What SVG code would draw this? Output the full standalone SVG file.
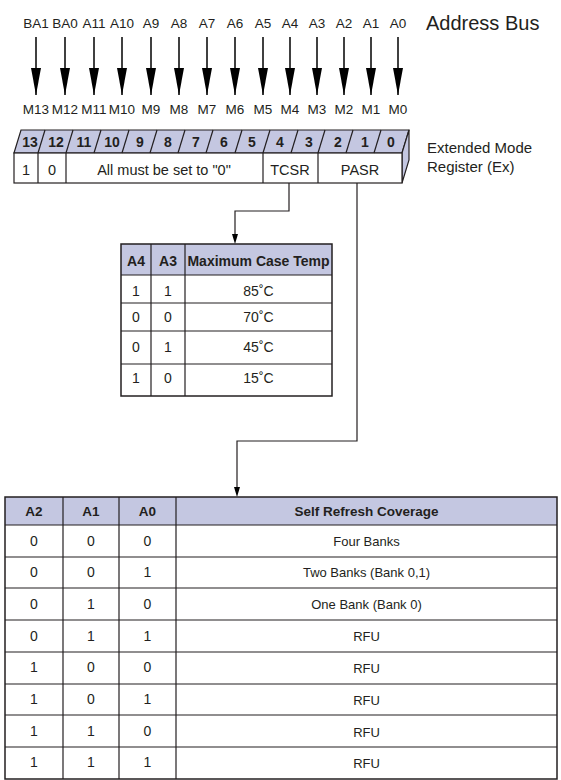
<svg xmlns="http://www.w3.org/2000/svg" width="561" height="780" viewBox="0 0 561 780">
<defs>
<style>
text{font-family:"Liberation Sans",Arial,sans-serif;fill:#231f20;}
.lbl{font-size:13.5px;text-anchor:middle;}
.num{font-size:14px;font-weight:bold;text-anchor:middle;}
.reg{font-size:14.5px;text-anchor:middle;}
.hd{font-size:14px;font-weight:bold;text-anchor:middle;}
.hd2{font-size:13.5px;font-weight:bold;text-anchor:middle;}
.cell{font-size:14px;text-anchor:middle;}
.cell2{font-size:13px;text-anchor:middle;}
.ln{stroke:#231f20;stroke-width:1.2;fill:none;}
.face{fill:#c4c7e1;stroke:#231f20;stroke-width:1.2;}
.hdr{fill:#c4c7e1;}
.ab{stroke:#000;stroke-width:1.5;}
</style>
<marker id="ah" viewBox="0 0 27 10" refX="27" refY="5" markerWidth="27" markerHeight="10" markerUnits="userSpaceOnUse" orient="auto">
<polygon points="0,0 27,5 0,10" fill="#000"/>
</marker>
</defs>
<rect width="561" height="780" fill="#fff"/>

<g id="address-bus">
<text x="426" y="30" style="font-size:20px">Address Bus</text>
<text x="36" y="28" class="lbl">BA1</text>
<text x="65" y="28" class="lbl">BA0</text>
<text x="94" y="28" class="lbl">A11</text>
<text x="122" y="28" class="lbl">A10</text>
<text x="151" y="28" class="lbl">A9</text>
<text x="179" y="28" class="lbl">A8</text>
<text x="207" y="28" class="lbl">A7</text>
<text x="235" y="28" class="lbl">A6</text>
<text x="263" y="28" class="lbl">A5</text>
<text x="290" y="28" class="lbl">A4</text>
<text x="317" y="28" class="lbl">A3</text>
<text x="344" y="28" class="lbl">A2</text>
<text x="371" y="28" class="lbl">A1</text>
<text x="398" y="28" class="lbl">A0</text>
<text x="36" y="114" class="lbl">M13</text>
<text x="65" y="114" class="lbl">M12</text>
<text x="94" y="114" class="lbl">M11</text>
<text x="122" y="114" class="lbl">M10</text>
<text x="151" y="114" class="lbl">M9</text>
<text x="179" y="114" class="lbl">M8</text>
<text x="207" y="114" class="lbl">M7</text>
<text x="235" y="114" class="lbl">M6</text>
<text x="263" y="114" class="lbl">M5</text>
<text x="290" y="114" class="lbl">M4</text>
<text x="317" y="114" class="lbl">M3</text>
<text x="344" y="114" class="lbl">M2</text>
<text x="371" y="114" class="lbl">M1</text>
<text x="398" y="114" class="lbl">M0</text>
</g>

<g id="register">
<polygon class="face" points="14,153 21,130 409,130 402,153"/>
<polygon class="face" points="402,153 409,130 409,160 402,183"/>
<rect x="14" y="153" width="388" height="30" fill="#fff" stroke="#231f20" stroke-width="1.2"/>
<g class="ln">
<line x1="38" y1="153" x2="45" y2="130"/>
<line x1="66" y1="153" x2="73" y2="130"/>
<line x1="94" y1="153" x2="101" y2="130"/>
<line x1="122" y1="153" x2="129" y2="130"/>
<line x1="150" y1="153" x2="157" y2="130"/>
<line x1="178" y1="153" x2="185" y2="130"/>
<line x1="206" y1="153" x2="213" y2="130"/>
<line x1="235" y1="153" x2="242" y2="130"/>
<line x1="263" y1="153" x2="270" y2="130"/>
<line x1="291" y1="153" x2="298" y2="130"/>
<line x1="318" y1="153" x2="325" y2="130"/>
<line x1="346" y1="153" x2="353" y2="130"/>
<line x1="374" y1="153" x2="381" y2="130"/>
<line x1="38" y1="153" x2="38" y2="183"/>
<line x1="66" y1="153" x2="66" y2="183"/>
<line x1="263" y1="153" x2="263" y2="183"/>
<line x1="318" y1="153" x2="318" y2="183"/>
</g>
<text x="30" y="146.5" class="num">13</text>
<text x="56" y="146.5" class="num">12</text>
<text x="84" y="146.5" class="num">11</text>
<text x="112" y="146.5" class="num">10</text>
<text x="140" y="146.5" class="num">9</text>
<text x="168" y="146.5" class="num">8</text>
<text x="196" y="146.5" class="num">7</text>
<text x="224" y="146.5" class="num">6</text>
<text x="252" y="146.5" class="num">5</text>
<text x="280" y="146.5" class="num">4</text>
<text x="309" y="146.5" class="num">3</text>
<text x="338" y="146.5" class="num">2</text>
<text x="365" y="146.5" class="num">1</text>
<text x="391" y="146.5" class="num">0</text>
<text x="26" y="175" class="reg">1</text>
<text x="52" y="175" class="reg">0</text>
<text x="164" y="175" class="reg">All must be set to "0"</text>
<text x="290" y="175" class="reg">TCSR</text>
<text x="360" y="175" class="reg">PASR</text>
<text x="427" y="153" style="font-size:15px">Extended Mode</text>
<text x="427" y="172" style="font-size:15px">Register (Ex)</text>
</g>

<g id="connectors">
<g class="ab">
<line x1="36" y1="37" x2="36" y2="95" marker-end="url(#ah)"/>
<line x1="65" y1="37" x2="65" y2="95" marker-end="url(#ah)"/>
<line x1="94" y1="37" x2="94" y2="95" marker-end="url(#ah)"/>
<line x1="122" y1="37" x2="122" y2="95" marker-end="url(#ah)"/>
<line x1="151" y1="37" x2="151" y2="95" marker-end="url(#ah)"/>
<line x1="179" y1="37" x2="179" y2="95" marker-end="url(#ah)"/>
<line x1="207" y1="37" x2="207" y2="95" marker-end="url(#ah)"/>
<line x1="235" y1="37" x2="235" y2="95" marker-end="url(#ah)"/>
<line x1="263" y1="37" x2="263" y2="95" marker-end="url(#ah)"/>
<line x1="290" y1="37" x2="290" y2="95" marker-end="url(#ah)"/>
<line x1="317" y1="37" x2="317" y2="95" marker-end="url(#ah)"/>
<line x1="344" y1="37" x2="344" y2="95" marker-end="url(#ah)"/>
<line x1="371" y1="37" x2="371" y2="95" marker-end="url(#ah)"/>
<line x1="398" y1="37" x2="398" y2="95" marker-end="url(#ah)"/>
</g>
<polyline class="ln" points="289,183 289,211 235,211 235,236"/>
<polygon points="232,234 238,234 235,244" fill="#000"/>
<polyline class="ln" points="357,183 357,441 237,441 237,489"/>
<polygon points="234,487 240,487 237,497" fill="#000"/>
</g>

<g id="tcsr-table">
<rect class="hdr" x="121" y="244" width="211" height="31"/>
<rect x="121" y="244" width="211" height="152" fill="none" stroke="#231f20" stroke-width="1.5"/>
<g class="ln">
<line x1="151" y1="244" x2="151" y2="396"/>
<line x1="185" y1="244" x2="185" y2="396"/>
<line x1="121" y1="275" x2="332" y2="275"/>
<line x1="121" y1="303" x2="332" y2="303"/>
<line x1="121" y1="331" x2="332" y2="331"/>
<line x1="121" y1="364" x2="332" y2="364"/>
</g>
<text x="136" y="266" class="hd">A4</text>
<text x="168" y="266" class="hd">A3</text>
<text x="258.5" y="266" class="hd">Maximum Case Temp</text>
<text x="136" y="296" class="cell">1</text>
<text x="168" y="296" class="cell">1</text>
<text x="258.5" y="296" class="cell">85˚C</text>
<text x="136" y="322" class="cell">0</text>
<text x="168" y="322" class="cell">0</text>
<text x="258.5" y="322" class="cell">70˚C</text>
<text x="136" y="352" class="cell">0</text>
<text x="168" y="352" class="cell">1</text>
<text x="258.5" y="352" class="cell">45˚C</text>
<text x="136" y="383" class="cell">1</text>
<text x="168" y="383" class="cell">0</text>
<text x="258.5" y="383" class="cell">15˚C</text>
</g>

<g id="pasr-table">
<rect class="hdr" x="5" y="497" width="552" height="28"/>
<rect x="5" y="497" width="552" height="282" fill="none" stroke="#231f20" stroke-width="1.5"/>
<g class="ln">
<line x1="63" y1="497" x2="63" y2="779"/>
<line x1="119" y1="497" x2="119" y2="779"/>
<line x1="176" y1="497" x2="176" y2="779"/>
<line x1="5" y1="525" x2="557" y2="525"/>
<line x1="5" y1="557" x2="557" y2="557"/>
<line x1="5" y1="588" x2="557" y2="588"/>
<line x1="5" y1="620" x2="557" y2="620"/>
<line x1="5" y1="652" x2="557" y2="652"/>
<line x1="5" y1="684" x2="557" y2="684"/>
<line x1="5" y1="715" x2="557" y2="715"/>
<line x1="5" y1="747" x2="557" y2="747"/>
</g>
<text x="34" y="516" class="hd2">A2</text>
<text x="91" y="516" class="hd2">A1</text>
<text x="147.5" y="516" class="hd2">A0</text>
<text x="366.5" y="516" class="hd2">Self Refresh Coverage</text>

<text x="34" y="546" class="cell">0</text><text x="91" y="546" class="cell">0</text><text x="147.5" y="546" class="cell">0</text><text x="366.5" y="546" class="cell2">Four Banks</text>
<text x="34" y="577" class="cell">0</text><text x="91" y="577" class="cell">0</text><text x="147.5" y="577" class="cell">1</text><text x="366.5" y="577" class="cell2">Two Banks (Bank 0,1)</text>
<text x="34" y="609" class="cell">0</text><text x="91" y="609" class="cell">1</text><text x="147.5" y="609" class="cell">0</text><text x="366.5" y="609" class="cell2">One Bank (Bank 0)</text>
<text x="34" y="641" class="cell">0</text><text x="91" y="641" class="cell">1</text><text x="147.5" y="641" class="cell">1</text><text x="366.5" y="641" class="cell2">RFU</text>
<text x="34" y="672" class="cell">1</text><text x="91" y="672" class="cell">0</text><text x="147.5" y="672" class="cell">0</text><text x="366.5" y="673" class="cell2">RFU</text>
<text x="34" y="704" class="cell">1</text><text x="91" y="704" class="cell">0</text><text x="147.5" y="704" class="cell">1</text><text x="366.5" y="705" class="cell2">RFU</text>
<text x="34" y="736" class="cell">1</text><text x="91" y="736" class="cell">1</text><text x="147.5" y="736" class="cell">0</text><text x="366.5" y="737" class="cell2">RFU</text>
<text x="34" y="767" class="cell">1</text><text x="91" y="767" class="cell">1</text><text x="147.5" y="767" class="cell">1</text><text x="366.5" y="768" class="cell2">RFU</text>
</g>
</svg>
